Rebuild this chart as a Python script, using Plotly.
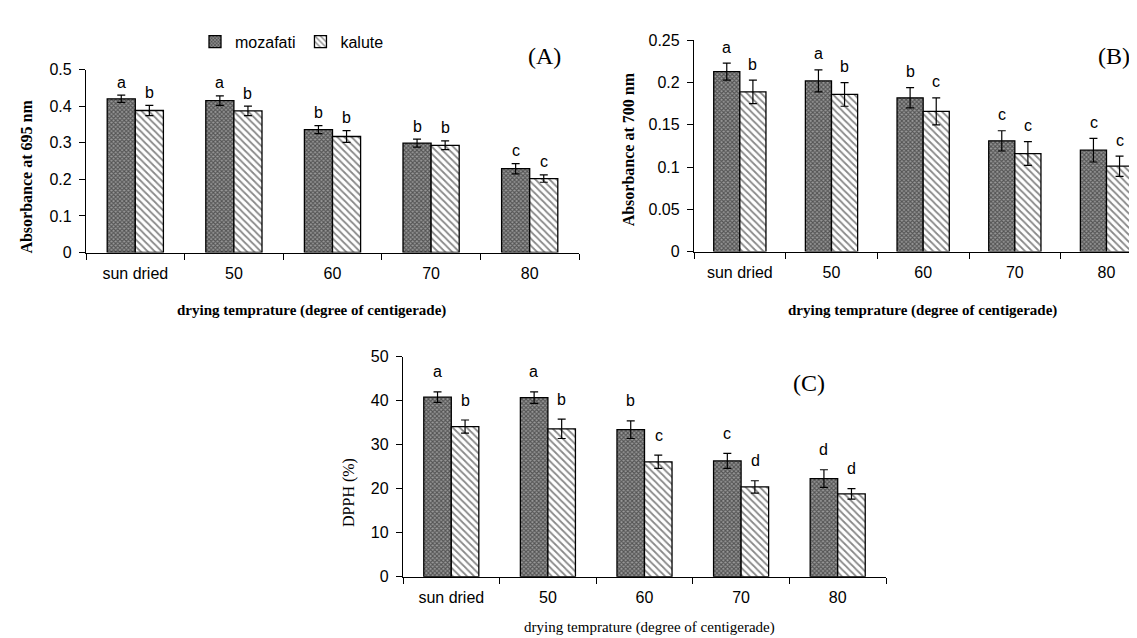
import plotly.graph_objects as go

W, H = 1137, 638

categories = ["sun dried", "50", "60", "70", "80"]

# Panel A: absorbance at 695 nm
a_moz = [0.420, 0.415, 0.336, 0.299, 0.229]
a_moz_err = [0.010, 0.013, 0.011, 0.011, 0.014]
a_kal = [0.388, 0.387, 0.317, 0.293, 0.202]
a_kal_err = [0.014, 0.013, 0.016, 0.012, 0.010]
a_moz_let = ["a", "a", "b", "b", "c"]
a_kal_let = ["b", "b", "b", "b", "c"]

# Panel B: absorbance at 700 nm
b_moz = [0.213, 0.202, 0.182, 0.131, 0.120]
b_moz_err = [0.010, 0.013, 0.012, 0.012, 0.014]
b_kal = [0.189, 0.186, 0.166, 0.116, 0.101]
b_kal_err = [0.014, 0.014, 0.016, 0.014, 0.012]
b_moz_let = ["a", "a", "b", "c", "c"]
b_kal_let = ["b", "b", "c", "c", "c"]

# Panel C: DPPH (%)
c_moz = [40.8, 40.7, 33.4, 26.3, 22.3]
c_moz_err = [1.2, 1.3, 2.0, 1.7, 2.0]
c_kal = [34.1, 33.6, 26.1, 20.4, 18.8]
c_kal_err = [1.5, 2.2, 1.5, 1.4, 1.2]
c_moz_let = ["a", "a", "b", "c", "d"]
c_kal_let = ["b", "b", "c", "d", "d"]

a_ticks = [0, 0.1, 0.2, 0.3, 0.4, 0.5]
b_ticks = [0, 0.05, 0.1, 0.15, 0.2, 0.25]
c_ticks = [0, 10, 20, 30, 40, 50]


def px_x(x):
    return x / W


def px_y(y):
    return 1 - y / H


moz_pattern = dict(shape="x", fgcolor="#111", bgcolor="#999", size=3, solidity=0.6)
kal_pattern = dict(shape="\\", fgcolor="#111", bgcolor="white", size=5, solidity=0.35)

fig = go.Figure()

# (xaxis, yaxis, values..., show legend, letter y-offset px, letter x-offset px)
panels = [
    ("x", "y", a_moz, a_moz_err, a_kal, a_kal_err, a_moz_let, a_kal_let, True, 13, 14),
    ("x2", "y2", b_moz, b_moz_err, b_kal, b_kal_err, b_moz_let, b_kal_let, False, 16, 13),
    ("x3", "y3", c_moz, c_moz_err, c_kal, c_kal_err, c_moz_let, c_kal_let, False, 20, 14),
]

annotations = []
for xa, ya, mv, me, kv, ke, ml, kl, show, off, dx in panels:
    fig.add_trace(go.Bar(
        x=categories, y=mv, name="mozafati", xaxis=xa, yaxis=ya,
        offsetgroup="m", showlegend=show, legendgroup="m",
        marker=dict(color="#999", pattern=moz_pattern, line=dict(color="black", width=1.3)),
        error_y=dict(type="data", array=me, color="black", thickness=1.2, width=4),
    ))
    fig.add_trace(go.Bar(
        x=categories, y=kv, name="kalute", xaxis=xa, yaxis=ya,
        offsetgroup="k", showlegend=show, legendgroup="k",
        marker=dict(color="white", pattern=kal_pattern, line=dict(color="black", width=1.3)),
        error_y=dict(type="data", array=ke, color="black", thickness=1.2, width=4),
    ))
    for i in range(len(categories)):
        for j, (vals, errs, lets) in enumerate([(mv, me, ml), (kv, ke, kl)]):
            annotations.append(dict(
                x=i, y=vals[i] + errs[i], xref=xa, yref=ya, text=lets[i],
                showarrow=False, yshift=off, xshift=(-dx if j == 0 else dx),
                font=dict(family="Liberation Sans, Arial", size=16, color="black"),
                xanchor="center", yanchor="middle",
            ))

serif = "Liberation Serif, Times New Roman, serif"


def paper_text(text, x, y, size, angle=0):
    return dict(text=text, x=px_x(x), y=px_y(y), xref="paper", yref="paper",
                xanchor="center", yanchor="middle", textangle=angle, showarrow=False,
                font=dict(family=serif, size=size, color="black"))


annotations += [
    paper_text("<b>Absorbance at 695 nm</b>", 19, 165, 16, -90),
    paper_text("<b>drying temprature (degree of centigerade)</b>", 303, 303, 15),
    paper_text("<b>Absorbance at 700 nm</b>", 620, 137, 16, -90),
    paper_text("<b>drying temprature (degree of centigerade)</b>", 914, 303, 15),
    paper_text("DPPH (%)", 341, 490, 16, -90),
    paper_text("drying temprature (degree of centigerade)", 641, 628, 15),
    paper_text("(A)", 536, 41, 24),
    paper_text("(B)", 1106, 41, 24),
    paper_text("(C)", 801, 377, 24),
]

tickfont = dict(family="Liberation Sans, Arial", size=16, color="black")


def xaxis(dom, anchor, rng):
    return dict(domain=dom, anchor=anchor, type="category", range=rng,
                showline=True, linecolor="black", linewidth=1.3, ticks="outside",
                tickson="boundaries", ticklen=6, tickcolor="black", tickfont=tickfont,
                ticklabelstandoff=6,
                showgrid=False, zeroline=False, fixedrange=True)


def yaxis(dom, anchor, rng, tv):
    return dict(domain=dom, anchor=anchor, range=rng, tickvals=tv,
                ticktext=[("%g" % t) for t in tv],
                showline=True, linecolor="black", linewidth=1.3, ticks="outside",
                ticklen=6, tickcolor="black", tickfont=tickfont,
                ticklabelstandoff=4,
                showgrid=False, zeroline=False, fixedrange=True)


fig.update_layout(
    width=W, height=H,
    margin=dict(l=0, r=0, t=0, b=0),
    paper_bgcolor="white", plot_bgcolor="white",
    barmode="group", bargap=0.43, bargroupgap=0,
    xaxis=xaxis([px_x(78), px_x(571)], "y", [-0.5, 4.5]),
    yaxis=yaxis([px_y(243), px_y(55)], "x", [0, 0.5], a_ticks),
    xaxis2=xaxis([px_x(686), 1.0], "y2", [-0.5, 4.42]),
    yaxis2=yaxis([px_y(242), px_y(25)], "x2", [0, 0.25], b_ticks),
    xaxis3=xaxis([px_x(395), px_x(878)], "y3", [-0.5, 4.5]),
    yaxis3=yaxis([px_y(576), px_y(350)], "x3", [0, 50], c_ticks),
    legend=dict(orientation="h", x=px_x(187), y=px_y(9), xanchor="left", yanchor="top",
                font=dict(family="Liberation Sans, Arial", size=16, color="black"),
                itemwidth=30, traceorder="normal", bgcolor="rgba(0,0,0,0)"),
    annotations=annotations,
)

fig.write_html("out.html")
